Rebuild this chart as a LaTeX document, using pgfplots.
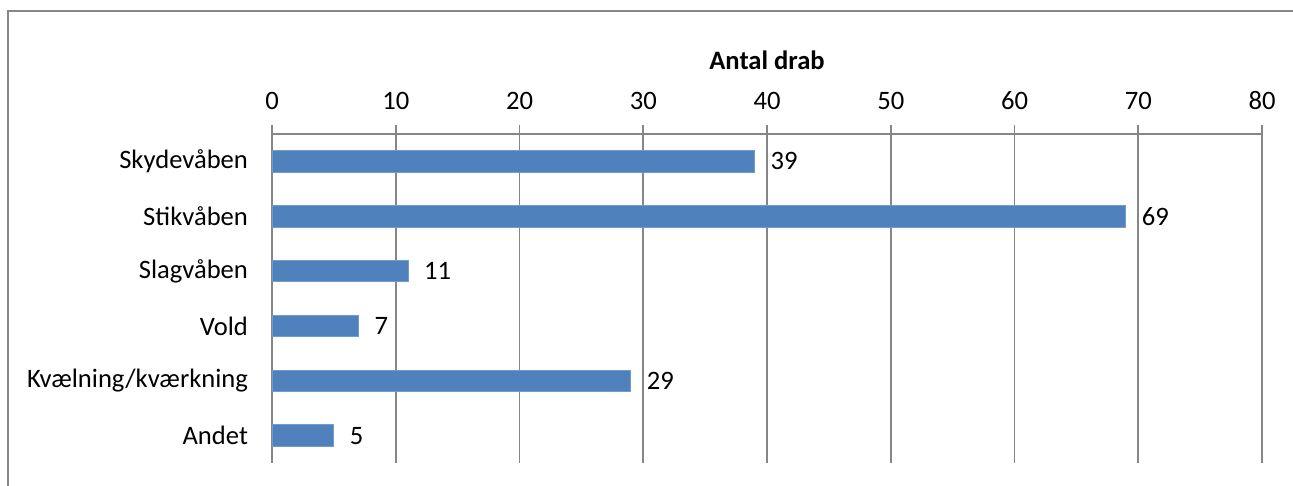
\documentclass[border=0pt]{standalone}
\usepackage{fontspec}
\setmainfont{Carlito}
\usepackage{pgfplots}
\pgfplotsset{compat=1.18}
\definecolor{barblue}{RGB}{79,129,189}
\definecolor{linegray}{RGB}{134,134,134}
\newcommand{\lbl}{\fontsize{13.3}{16}\selectfont}
\begin{document}
\begin{tikzpicture}
  % picture area, 0.5pt per pixel of the reference
  \path[use as bounding box] (0pt,0pt) rectangle (646.5pt,243pt);
  \clip (0pt,0pt) rectangle (646.5pt,243pt);
  \draw[linegray, line width=0.75pt] (4pt,-20pt) rectangle (680pt,237.5pt);
  \begin{axis}[
    at={(136pt,11.5pt)}, anchor=south west,
    scale only axis, width=495pt, height=164.5pt,
    xbar, bar width=10.7pt,
    xmin=0, xmax=80, xtick={0,10,...,80},
    ymin=-0.5, ymax=5.5, y dir=reverse,
    ytick={0,...,5},
    yticklabels={Skydevåben,Stikvåben,Slagvåben,Vold,Kvælning/kværkning,Andet},
    axis x line*=top, axis y line*=left,
    axis line style={-, linegray, line width=0.9pt},
    xmajorgrids, grid style={linegray, line width=0.9pt},
    xtick align=outside, major tick length=4.5pt,
    x tick style={linegray, line width=0.9pt},
    y tick style={draw=none},
    extra y ticks={-0.5,0.5,...,5.5}, extra y tick labels={},
    extra y tick style={tick align=outside, major tick length=4pt,
      tick style={draw=linegray, line width=0.9pt}},
    /pgf/number format/assume math mode=true,
    tick label style={font=\lbl},
    xticklabel style={yshift=4pt},
    yticklabel style={xshift=-4pt},
    xlabel={\textbf{Antal drab}},
    label style={font=\lbl},
    xlabel style={yshift=4pt},
    nodes near coords,
    every node near coord/.append style={font=\lbl, xshift=4.5pt},
  ]
    \addplot[fill=barblue, draw=barblue!80!white, line width=0.4pt] coordinates {
      (39,0) (69,1) (11,2) (7,3) (29,4) (5,5)
    };
  \end{axis}
\end{tikzpicture}
\end{document}
